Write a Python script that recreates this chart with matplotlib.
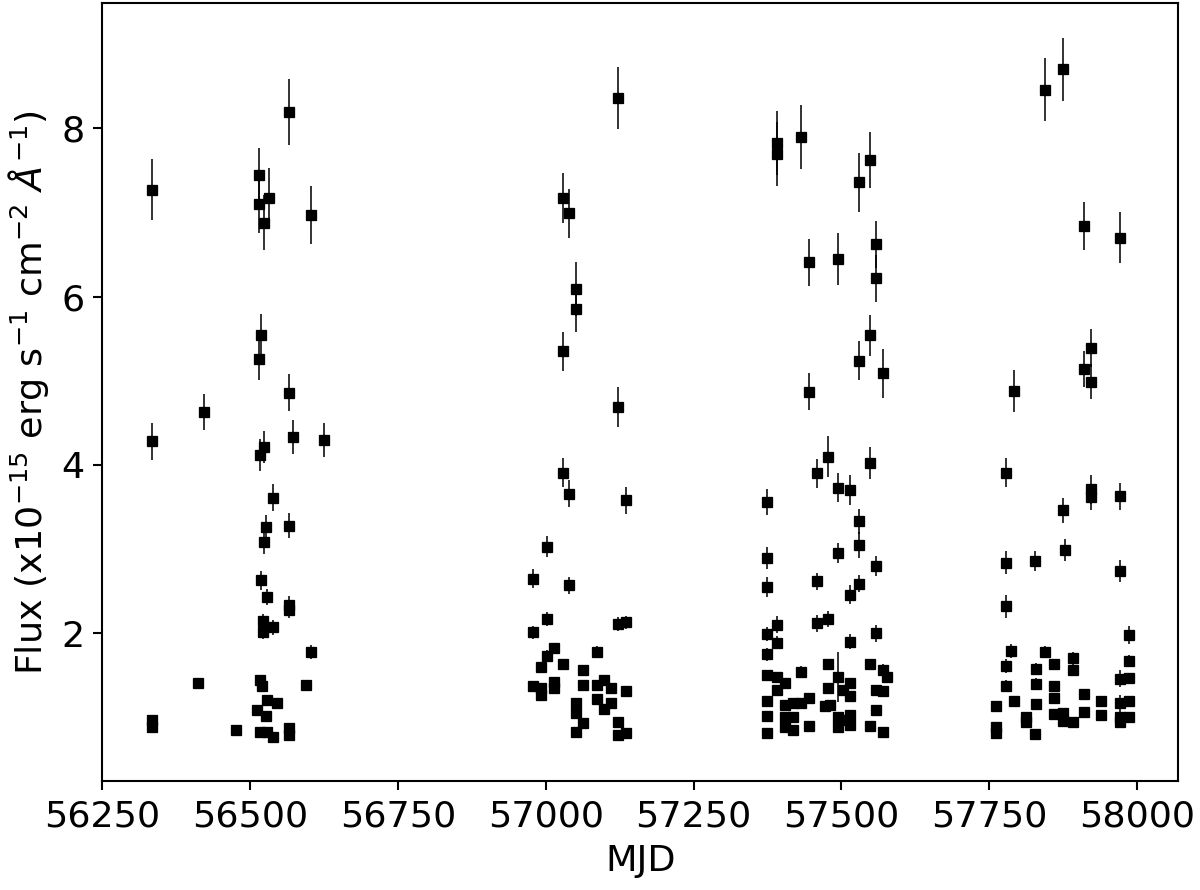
import matplotlib
matplotlib.use("Agg")
import matplotlib.pyplot as plt
import numpy as np

# Season 1
mjd_s1 = [56334, 56566, 56514, 56515, 56532, 56524, 56602, 56518, 56515, 56566, 56422,
          56334, 56573, 56625, 56524, 56517, 56539, 56527, 56566, 56524, 56518, 56528,
          56565, 56566, 56522, 56539, 56522, 56602, 56411, 56595, 56516, 56520, 56528,
          56545, 56511, 56527, 56334, 56334, 56476, 56517, 56528, 56539, 56565, 56566]
flux_s1 = [7.27, 8.19, 7.45, 7.10, 7.17, 6.88, 6.97, 5.54, 5.26, 4.86, 4.63,
           4.28, 4.33, 4.30, 4.21, 4.12, 3.61, 3.26, 3.28, 3.08, 2.63, 2.43,
           2.34, 2.28, 2.14, 2.07, 2.02, 1.78, 1.41, 1.39, 1.45, 1.37, 1.21,
           1.17, 1.09, 1.02, 0.97, 0.89, 0.85, 0.83, 0.83, 0.77, 0.87, 0.79]
err_s1 = [0.36, 0.39, 0.31, 0.34, 0.36, 0.33, 0.35, 0.25, 0.25, 0.22, 0.21,
          0.22, 0.20, 0.20, 0.19, 0.19, 0.16, 0.15, 0.15, 0.14, 0.11, 0.10,
          0.10, 0.10, 0.09, 0.09, 0.09, 0.08, 0.05, 0.06, 0.06, 0.06, 0.05,
          0.05, 0.05, 0.05, 0.04, 0.04, 0.04, 0.04, 0.04, 0.04, 0.04, 0.04]

# Season 2
mjd_s2 = [57122, 57029, 57039, 57051, 57051, 57029, 57122, 57029, 57039, 57135, 57002,
          56979, 57039, 57002, 57122, 57135, 56979, 57014, 57002, 56991, 57029, 57087,
          57062, 56979, 56991, 56991, 57014, 57014, 57062, 57087, 57099, 57111, 57087,
          57111, 57099, 57135, 57051, 57051, 57063, 57051, 57122, 57122, 57135]
flux_s2 = [8.36, 7.17, 6.99, 6.09, 5.85, 5.35, 4.69, 3.91, 3.66, 3.58, 3.03,
           2.65, 2.57, 2.17, 2.11, 2.13, 2.01, 1.82, 1.73, 1.60, 1.64, 1.78,
           1.56, 1.37, 1.35, 1.27, 1.42, 1.35, 1.38, 1.39, 1.45, 1.35, 1.22,
           1.17, 1.10, 1.31, 1.17, 1.05, 0.93, 0.83, 0.95, 0.79, 0.81]
err_s2 = [0.37, 0.30, 0.29, 0.32, 0.27, 0.23, 0.24, 0.17, 0.16, 0.16, 0.12,
          0.11, 0.10, 0.08, 0.08, 0.08, 0.08, 0.07, 0.07, 0.06, 0.06, 0.07,
          0.06, 0.05, 0.05, 0.05, 0.05, 0.05, 0.05, 0.05, 0.05, 0.05, 0.05,
          0.05, 0.04, 0.05, 0.05, 0.04, 0.04, 0.04, 0.04, 0.04, 0.04]

# Season 3
mjd_s3 = [57391, 57391, 57431, 57529, 57548, 57445, 57495, 57558, 57558, 57548,
          57529, 57571, 57445, 57477, 57548, 57459, 57495, 57514, 57374, 57529,
          57529, 57495, 57374, 57558, 57374, 57459, 57529, 57514, 57459, 57477,
          57391, 57374, 57391, 57514, 57558, 57374, 57477, 57548, 57431, 57571,
          57577, 57374, 57391, 57495, 57404, 57391, 57514, 57477, 57503, 57558,
          57571, 57514, 57374, 57445, 57404, 57418, 57431, 57472, 57480, 57558,
          57374, 57404, 57418, 57495, 57514, 57503, 57404, 57418, 57445, 57495,
          57514, 57548, 57374, 57571]
flux_s3 = [7.83, 7.70, 7.90, 7.36, 7.62, 6.41, 6.45, 6.62, 6.22, 5.54,
           5.24, 5.09, 4.87, 4.10, 4.02, 3.90, 3.73, 3.70, 3.56, 3.33,
           3.05, 2.95, 2.89, 2.80, 2.55, 2.62, 2.59, 2.46, 2.12, 2.17,
           2.10, 1.99, 1.89, 1.90, 2.00, 1.75, 1.63, 1.63, 1.54, 1.56,
           1.48, 1.50, 1.48, 1.48, 1.41, 1.33, 1.41, 1.35, 1.33, 1.33,
           1.31, 1.25, 1.20, 1.23, 1.15, 1.17, 1.17, 1.13, 1.15, 1.09,
           1.02, 1.01, 1.01, 1.01, 1.03, 0.97, 0.89, 0.85, 0.90, 0.89,
           0.91, 0.90, 0.81, 0.83]
err_s3 = [0.38, 0.38, 0.38, 0.35, 0.33, 0.28, 0.31, 0.28, 0.28, 0.24,
          0.23, 0.29, 0.22, 0.24, 0.19, 0.17, 0.17, 0.18, 0.16, 0.15,
          0.15, 0.12, 0.13, 0.12, 0.12, 0.10, 0.10, 0.11, 0.10, 0.10,
          0.10, 0.08, 0.08, 0.09, 0.10, 0.08, 0.07, 0.07, 0.07, 0.07,
          0.06, 0.06, 0.06, 0.30, 0.06, 0.06, 0.06, 0.06, 0.06, 0.06,
          0.06, 0.05, 0.05, 0.05, 0.05, 0.05, 0.05, 0.05, 0.05, 0.05,
          0.04, 0.04, 0.04, 0.04, 0.04, 0.04, 0.04, 0.04, 0.04, 0.04,
          0.04, 0.04, 0.04, 0.04]

# Season 4
mjd_s4 = [57844, 57875, 57911, 57971, 57923, 57911, 57923, 57792, 57778, 57875,
          57923, 57923, 57971, 57879, 57778, 57827, 57971, 57778, 57987, 57786,
          57844, 57891, 57778, 57829, 57859, 57891, 57987, 57971, 57987, 57778,
          57829, 57859, 57859, 57792, 57762, 57829, 57911, 57939, 57971, 57987,
          57859, 57875, 57875, 57891, 57911, 57939, 57813, 57813, 57971, 57971,
          57987, 57762, 57762, 57827]
flux_s4 = [8.46, 8.70, 6.84, 6.70, 5.39, 5.14, 4.99, 4.88, 3.91, 3.46,
           3.71, 3.62, 3.63, 2.99, 2.84, 2.86, 2.74, 2.32, 1.98, 1.79,
           1.78, 1.71, 1.61, 1.58, 1.63, 1.56, 1.67, 1.46, 1.47, 1.37,
           1.40, 1.37, 1.23, 1.19, 1.14, 1.16, 1.28, 1.20, 1.17, 1.19,
           1.04, 1.05, 0.96, 0.95, 1.06, 1.03, 1.01, 0.94, 1.01, 0.94,
           1.00, 0.89, 0.81, 0.80]
err_s4 = [0.37, 0.37, 0.29, 0.30, 0.23, 0.21, 0.21, 0.25, 0.17, 0.15,
          0.17, 0.15, 0.16, 0.13, 0.14, 0.12, 0.13, 0.14, 0.11, 0.08,
          0.07, 0.07, 0.08, 0.07, 0.07, 0.07, 0.07, 0.10, 0.06, 0.07,
          0.07, 0.06, 0.05, 0.07, 0.05, 0.05, 0.05, 0.05, 0.10, 0.05,
          0.05, 0.05, 0.04, 0.04, 0.04, 0.04, 0.04, 0.04, 0.04, 0.04,
          0.04, 0.04, 0.04, 0.04]

x_ticks = [56250, 56500, 56750, 57000, 57250, 57500, 57750, 58000]
y_ticks = [2, 4, 6, 8]

mjd = mjd_s1 + mjd_s2 + mjd_s3 + mjd_s4
flux = flux_s1 + flux_s2 + flux_s3 + flux_s4
err = err_s1 + err_s2 + err_s3 + err_s4

plt.rcParams['font.family'] = ['DejaVu Sans']
plt.rcParams['font.size'] = 14

fig = plt.figure(figsize=(6.4, 890 / 187.5), dpi=187.5)
ax = fig.add_axes([0.0854, 0.1225, 0.8966, 0.8738])

ax.errorbar(mjd, flux, yerr=err, fmt='s', color='black', ms=4.2,
            elinewidth=0.6, capsize=0, mew=0.5)

ax.set_xlim(56251, 58070)
ax.set_ylim(0.245, 9.485)
ax.set_xticks(x_ticks)
ax.set_yticks(y_ticks)
ax.set_xlabel('MJD')
ax.set_ylabel(r'Flux (x10$^{-15}$ erg s$^{-1}$ cm$^{-2}$ $\AA^{-1}$)')

fig.savefig('out.png', dpi=187.5)
